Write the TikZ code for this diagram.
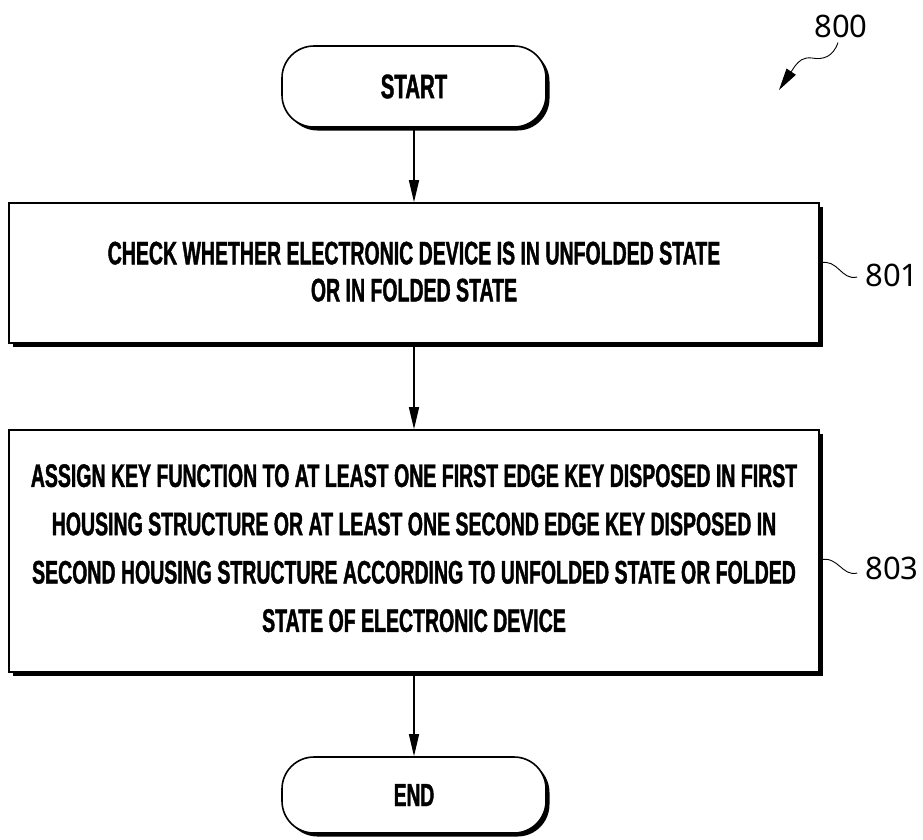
\documentclass[tikz,border=0pt]{standalone}
\usepackage{fontspec}
\usetikzlibrary{arrows.meta,shadows}
\newfontfamily\boxfont{Liberation Sans}[UprightFont={* Bold},FakeStretch=0.6,FakeBold=1.2]
\newfontfamily\labfont{Noto Sans}
\begin{document}
\begin{tikzpicture}[x=1pt,y=-1pt,
  shade/.style={drop shadow={shadow xshift=3.5pt,shadow yshift=-3.5pt,opacity=1,fill=black}},
  procbox/.style={draw,line width=1.6pt,fill=white,minimum width=810pt,align=center,
    inner sep=0pt,font=\boxfont\fontsize{32.5}{37}\selectfont,shade},
  term/.style={draw,line width=1.6pt,fill=white,rounded corners=32pt,minimum width=264pt,
    inner sep=0pt,shade},
  flow/.style={line width=1.5pt,-{Triangle[length=22pt,width=10pt]}},
  lab/.style={font=\labfont\fontsize{31}{31}\selectfont,inner sep=0pt},
  leader/.style={line width=0.9pt},
]
\useasboundingbox (0,0) rectangle (923,839);
\node[term,minimum height=81pt,font=\boxfont\fontsize{34}{34}\selectfont] (start) at (414,86.5) {START};
\node[procbox,minimum height=140pt,text depth=3pt] (b801) at (414,273)
  {CHECK WHETHER ELECTRONIC DEVICE IS IN UNFOLDED STATE\\OR IN FOLDED STATE};
\node[procbox,minimum height=242pt,text depth=6pt,font=\boxfont\fontsize{32.5}{48.3}\selectfont] (b803) at (414,551)
  {ASSIGN KEY FUNCTION TO AT LEAST ONE FIRST EDGE KEY DISPOSED IN FIRST\\
   HOUSING STRUCTURE OR AT LEAST ONE SECOND EDGE KEY DISPOSED IN\\
   SECOND HOUSING STRUCTURE ACCORDING TO UNFOLDED STATE OR FOLDED\\
   STATE OF ELECTRONIC DEVICE};
\node[term,minimum height=76pt,font=\boxfont\fontsize{32}{32}\selectfont] (end) at (414,795) {END};

\draw[flow] (start) -- (b801);
\draw[flow] (b801) -- (b803);
\draw[flow] (b803) -- (end);

\node[lab] (l800) at (841,26) {800};
\node[lab] (l801) at (892,275) {801};
\node[lab] (l803) at (892,568) {803};

\coordinate (a800) at (779,90);
\draw[leader,-{Triangle[length=22pt,width=11pt]}] ([xshift=-3pt,yshift=-5pt]l800.south)
  .. controls (833,57) and (823,60) .. (812,58)
  .. controls (803,57) and (799,61) .. (795,66) -- (a800);
\draw[leader] ([yshift=10pt]b801.east) .. controls (838,258) and (841,281) .. ([xshift=-8pt,yshift=-2pt]l801.west);
\draw[leader] ([yshift=-9pt]b803.east) .. controls (838,555) and (842,577) .. ([xshift=-8pt,yshift=-5pt]l803.west);
\end{tikzpicture}
\end{document}
